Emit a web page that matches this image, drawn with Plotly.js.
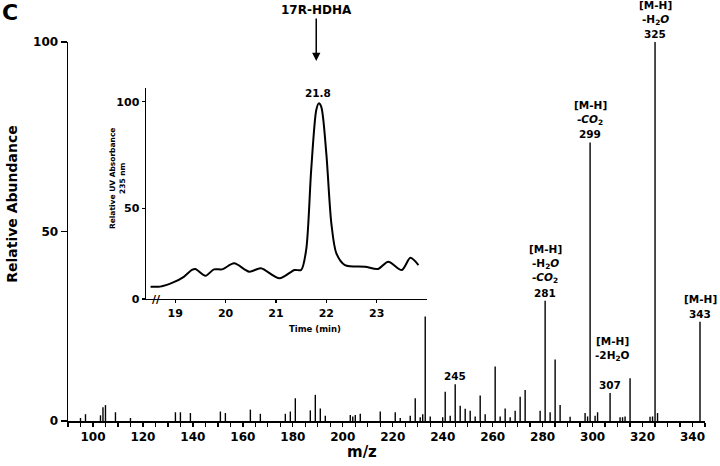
<!DOCTYPE html>
<html>
<head>
<meta charset="utf-8">
<script src="https://cdn.plot.ly/plotly-3.0.1.min.js"></script>
<style>
  html, body { margin: 0; padding: 0; background: #fff; }
  #plot { width: 720px; height: 466px; }
</style>
</head>
<body>
<div id="plot"></div>
<script>
// Mass spectrum (m/z vs relative abundance)
const mzValues = [95, 97, 103, 104, 105, 109, 115, 133, 135, 139, 151, 153, 163, 167, 177, 179, 181,
  187, 189, 191, 193, 203, 204, 205, 207, 215, 221, 223, 227, 229, 231, 232, 233, 235, 240, 241,
  243, 245, 247, 249, 251, 253, 255, 257, 261, 263, 265, 267, 269, 271, 273, 279, 281, 283, 285,
  287, 291, 297, 298, 299, 301, 302, 307, 311, 312, 313, 315, 323, 324, 325, 326, 343];
const abundance = [0.8, 1.8, 1.5, 3.6, 4.2, 2.3, 0.8, 2.3, 2.3, 2.1, 2.5, 2.1, 3.0, 1.9, 1.9, 2.5, 6.0,
  2.8, 6.9, 3.3, 1.4, 1.6, 1.2, 1.6, 1.9, 2.5, 2.3, 0.8, 1.4, 6.0, 1.0, 1.8, 27.6, 1.2, 1.0, 7.7,
  1.4, 9.7, 4.0, 3.2, 2.7, 1.2, 6.7, 1.8, 14.4, 1.2, 3.3, 1.0, 2.7, 6.4, 8.2, 2.7, 31.7, 2.3, 16.2,
  4.2, 1.1, 2.1, 1.2, 73.5, 1.4, 2.3, 7.4, 1.0, 1.0, 1.2, 11.3, 1.1, 1.2, 100, 2.1, 26.2];

// Inset: UV chromatogram
const timeMin = [18.51, 18.70, 18.97, 19.17, 19.33, 19.40, 19.60, 19.77, 19.93, 20.17, 20.47, 20.70,
  21.07, 21.37, 21.50, 21.60, 21.70, 21.80, 21.85, 21.90, 22.00, 22.10, 22.20, 22.37, 22.77, 23.03,
  23.23, 23.50, 23.67, 23.83];
const uvAbs = [13.3, 13.3, 15.4, 17.9, 21.1, 21.6, 18.4, 21.4, 21.4, 24.2, 20.3, 21.9,
  17.2, 21.1, 21.1, 30.5, 68, 96, 99.2, 97.6, 75.8, 43, 28.9, 23.4, 22.6, 21.6,
  25, 21.1, 26.8, 23.4];

// Labelled fragment ions, one entry per text line (top to bottom)
const ionMz = [325, 299, 281, 343, 245, 307];
const ionLines = [
  ['[M-H]', '-H<sub>2</sub><i>O</i>', '325'],
  ['[M-H]', '-<i>CO</i><sub>2</sub>', '299'],
  ['[M-H]', '-H<sub>2</sub><i>O</i>', '-<i>CO</i><sub>2</sub>', '281'],
  ['[M-H]', '343'],
  ['245'],
  ['[M-H]', '-2H<sub>2</sub>O', '', '307']
];

// stems: one segment per peak
const stemX = [], stemY = [];
mzValues.forEach((m, i) => {
  stemX.push(m, m, null);
  stemY.push(0, abundance[i], null);
});

const fontFam = 'DejaVu Sans, Arial, sans-serif';
const boldFont = (s) => ({family: fontFam, size: s, color: '#000', weight: 'bold'});

const traces = [
  {
    x: stemX, y: stemY, type: 'scatter', mode: 'lines',
    line: {color: '#000', width: 1.4}, hoverinfo: 'skip', xaxis: 'x', yaxis: 'y'
  },
  {
    x: timeMin, y: uvAbs, type: 'scatter', mode: 'lines',
    line: {color: '#000', width: 2, shape: 'spline', smoothing: 0.8},
    xaxis: 'x2', yaxis: 'y2', hoverinfo: 'skip'
  }
];

const annotations = [];
const lineGap = 14.5;
ionMz.forEach((m, i) => {
  const h = abundance[mzValues.indexOf(m)];
  const lines = ionLines[i];
  lines.forEach((t, k) => {
    if (!t) return;
    annotations.push({
      x: m, y: h, xref: 'x', yref: 'y', text: '<b>' + t + '</b>',
      showarrow: false, xanchor: 'center', yanchor: 'middle',
      yshift: 8 + (lines.length - 1 - k) * lineGap,
      xshift: (m === 307 && k < 2) ? 2 : 0,
      font: boldFont(10.5)
    });
  });
});

annotations.push(
  {x: -0.091, y: 1.078, xref: 'paper', yref: 'paper', text: '<b>C</b>', showarrow: false,
    xanchor: 'center', yanchor: 'middle', font: boldFont(22)},
  {x: 21.8, y: 0.95, xref: 'x2', yref: 'paper', text: '<b>17R-HDHA</b>', showarrow: true,
    ax: 0, ay: -51, arrowhead: 2, arrowsize: 1.1, arrowwidth: 1.5, arrowcolor: '#000',
    font: boldFont(12)},
  {x: 21.83, y: 100, xref: 'x2', yref: 'y2', text: '<b>21.8</b>', showarrow: false,
    xanchor: 'center', yanchor: 'bottom', yshift: 1, font: boldFont(10.5)},
  {x: -0.088, y: 0.573, xref: 'paper', yref: 'paper', text: '<b>Relative Abundance</b>',
    showarrow: false, textangle: -90, xanchor: 'center', yanchor: 'middle', font: boldFont(14)},
  {x: 0.4615, y: -0.0818, xref: 'paper', yref: 'paper', text: '<b>m/z</b>', showarrow: false,
    xanchor: 'center', yanchor: 'middle', font: boldFont(15)},
  {x: 0.077, y: 0.641, xref: 'paper', yref: 'paper', text: '<b>Relative UV Absorbance<br>235 nm</b>',
    showarrow: false, textangle: -90, xanchor: 'center', yanchor: 'middle', font: boldFont(7.5)},
  {x: 0.388, y: 0.2427, xref: 'paper', yref: 'paper', text: '<b>Time (min)</b>',
    showarrow: false, xanchor: 'center', yanchor: 'middle', font: boldFont(8.5)},
  {x: 18.62, y: 7.5, xref: 'x2', yref: 'y2', text: '<b>//</b>', showarrow: false,
    xanchor: 'center', yanchor: 'middle', font: boldFont(11)}
);

const layout = {
  width: 720, height: 466,
  margin: {l: 68, r: 15, t: 42, b: 45},
  paper_bgcolor: '#fff', plot_bgcolor: 'rgba(0,0,0,0)',
  showlegend: false,
  xaxis: {
    range: [90, 345], showgrid: false, zeroline: false,
    showline: true, linecolor: '#000', linewidth: 1.5,
    tickmode: 'linear', tick0: 100, dtick: 20,
    ticks: 'outside', ticklen: 4, tickwidth: 1.3, tickcolor: '#000',
    minor: {dtick: 5, tick0: 90, ticks: 'outside', ticklen: 4, tickwidth: 1.3, tickcolor: '#000', showgrid: false},
    tickfont: boldFont(12)
  },
  xaxis3: {
    overlaying: 'x', anchor: 'y', range: [90, 345], showgrid: false, zeroline: false,
    showline: false, tickmode: 'linear', tick0: 90, dtick: 5,
    ticks: 'inside', ticklen: 3, tickwidth: 1.3, tickcolor: '#000', showticklabels: false
  },
  yaxis: {
    range: [0, 100], showgrid: false, zeroline: false,
    showline: true, linecolor: '#000', linewidth: 1.5,
    tickvals: [0, 50, 100], ticks: 'outside', ticklen: 6, tickwidth: 1.3, tickcolor: '#000',
    tickfont: boldFont(12)
  },
  xaxis2: {
    domain: [0.1225, 0.5636], anchor: 'y2', range: [18.42, 24.0],
    showgrid: false, zeroline: false, showline: true, linecolor: '#000', linewidth: 1.5,
    tickvals: [19, 20, 21, 22, 23], ticks: 'outside', ticklen: 3, tickwidth: 1.2, tickcolor: '#000',
    tickfont: boldFont(11)
  },
  yaxis2: {
    domain: [0.3219, 0.8786], anchor: 'x2', range: [7.5, 106.4],
    showgrid: false, zeroline: false, showline: true, linecolor: '#000', linewidth: 1.5,
    tickvals: [7.5, 50, 100], ticktext: ['0', '50', '100'],
    ticks: 'outside', ticklen: 3, tickwidth: 1.2, tickcolor: '#000',
    tickfont: boldFont(11)
  },
  annotations: annotations
};

Plotly.newPlot('plot', traces, layout, {displayModeBar: false, staticPlot: true});
</script>
</body>
</html>
